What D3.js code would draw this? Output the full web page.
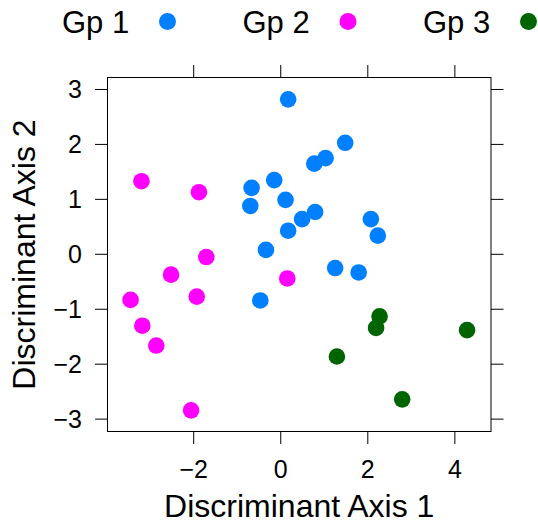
<!DOCTYPE html>
<html>
<head>
<meta charset="utf-8">
<script src="https://cdn.jsdelivr.net/npm/d3@7"></script>
<style>
  body { margin: 0; background: #fff; }
  text { font-family: "Liberation Sans", Arial, Helvetica, sans-serif; fill: #000; }
</style>
</head>
<body>
<svg id="chart" width="538" height="520"></svg>
<script>
// group names + colours
var groups = ['Gp 1', 'Gp 2', 'Gp 3'];
var colors = ['#0080ff', '#ff00ff', '#006400'];

// discriminant scores
var gp1X = [0.17, 1.48, 1.03, 0.77, -0.15, -0.67, -0.70, 0.11, 0.79, 0.49, 0.17, 2.07, 2.23, -0.34, 1.25, 1.79, -0.47];
var gp1Y = [2.82, 2.03, 1.75, 1.65, 1.35, 1.21, 0.88, 0.99, 0.77, 0.64, 0.43, 0.64, 0.34, 0.08, -0.25, -0.33, -0.84];
var gp2X = [-3.20, -1.88, -1.71, -2.52, 0.15, -3.45, -1.93, -3.18, -2.86, -2.06];
var gp2Y = [1.33, 1.13, -0.05, -0.37, -0.44, -0.83, -0.77, -1.30, -1.66, -2.84];
var gp3X = [2.27, 2.19, 4.28, 1.29, 2.79];
var gp3Y = [-1.13, -1.34, -1.38, -1.86, -2.64];

var xTicks = [-2, 0, 2, 4];
var yTicks = [-3, -2, -1, 0, 1, 2, 3];

var xTitle = 'Discriminant Axis 1';
var yTitle = 'Discriminant Axis 2';

var svg = d3.select('#chart');

// panel edges (note: "top" is taken by window.top)
var pL = 107.5, pR = 491, pT = 77.5, pB = 431.5;
var tick = 12.5;

var x = d3.scaleLinear().domain([-3.98, 4.83]).range([pL, pR]);
var y = d3.scaleLinear().domain([-3.225, 3.218]).range([pB, pT]);

var pts = [];
[[gp1X, gp1Y], [gp2X, gp2Y], [gp3X, gp3Y]].forEach(function(g, gi){
	g[0].forEach(function(v, i){
		pts.push({x: v, y: g[1][i], g: gi});
	});
});

// box
svg.append('rect')
	.attr('x', pL).attr('y', pT)
	.attr('width', pR - pL).attr('height', pB - pT)
	.attr('fill', 'none').attr('stroke', '#000').attr('stroke-width', 1);

// ticks on all four sides
var tk = svg.append('g').attr('stroke', '#000').attr('stroke-width', 1);
xTicks.forEach(function(t){
	tk.append('line').attr('x1', x(t)).attr('x2', x(t)).attr('y1', pB).attr('y2', pB + tick);
	tk.append('line').attr('x1', x(t)).attr('x2', x(t)).attr('y1', pT).attr('y2', pT - tick);
});
yTicks.forEach(function(t){
	tk.append('line').attr('y1', y(t)).attr('y2', y(t)).attr('x1', pL).attr('x2', pL - tick);
	tk.append('line').attr('y1', y(t)).attr('y2', y(t)).attr('x1', pR).attr('x2', pR + tick);
});

var fmt = d3.format('d');

svg.selectAll('.xl').data(xTicks).enter().append('text')
	.attr('x', function(d){ return x(d); })
	.attr('y', 478)
	.attr('text-anchor', 'middle')
	.style('font-size', '25px')
	.text(function(d){ return fmt(d); });

svg.selectAll('.yl').data(yTicks).enter().append('text')
	.attr('x', 82)
	.attr('y', function(d){ return y(d); })
	.attr('dy', '0.36em')
	.attr('text-anchor', 'end')
	.style('font-size', '25px')
	.text(function(d){ return fmt(d); });

// axis titles
svg.append('text')
	.attr('x', (pL + pR) / 2).attr('y', 517)
	.attr('text-anchor', 'middle')
	.style('font-size', '32px')
	.text(xTitle);

svg.append('text')
	.attr('transform', 'translate(35,' + ((pT + pB) / 2) + ') rotate(-90)')
	.attr('text-anchor', 'middle')
	.style('font-size', '32px')
	.text(yTitle);

// points
svg.append('g').selectAll('circle').data(pts).enter().append('circle')
	.attr('cx', function(d){ return x(d.x); })
	.attr('cy', function(d){ return y(d.y); })
	.attr('r', 8.3)
	.attr('fill', function(d){ return colors[d.g]; });

// legend across the top
var key = svg.append('g').selectAll('g').data(groups).enter().append('g')
	.attr('transform', function(d, i){ return 'translate(' + (62 + i * 180.5) + ',0)'; });
key.append('text')
	.attr('x', 0).attr('y', 33)
	.style('font-size', '31px')
	.text(function(d){ return d; });
key.append('circle')
	.attr('cx', 105.5).attr('cy', 21.5).attr('r', 8.5)
	.attr('fill', function(d, i){ return colors[i]; });
</script>
</body>
</html>
